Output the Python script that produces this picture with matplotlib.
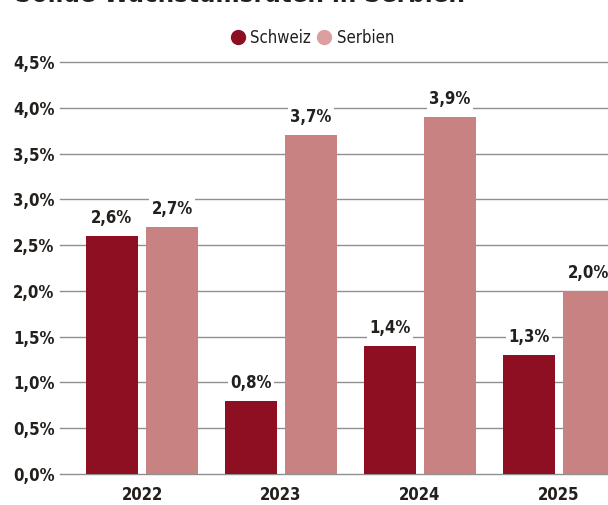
import matplotlib
matplotlib.use("Agg")
import matplotlib.pyplot as plt
import matplotlib.font_manager as fm
from matplotlib.lines import Line2D
import numpy as np

years = ["2022", "2023", "2024", "2025"]
schweiz = [2.6, 0.8, 1.4, 1.3]
serbien = [2.7, 3.7, 3.9, 2.0]
yticks = [0.0, 0.5, 1.0, 1.5, 2.0, 2.5, 3.0, 3.5, 4.0, 4.5]
title = "Solide Wachstumsraten in Serbien"

c_ch = "#8e0f22"
c_rs = "#c98282"
c_rs_leg = "#dc9f9f"
txt = "#231f1c"


def find_condensed(bold):
    for f in fm.fontManager.ttflist:
        fn = f.fname
        if "DejaVu" in f.name and "ondensed" in fn and "Mono" not in fn and "Serif" not in fn \
                and "Oblique" not in fn and ("Bold" in fn) == bold:
            return fn
    return None


fb = find_condensed(True)
fr = find_condensed(False)
scale = 1.0 if fb else 0.9


def fp(bold, size):
    fn = fb if bold else fr
    if fn:
        return fm.FontProperties(fname=fn, size=size)
    return fm.FontProperties(family="DejaVu Sans", weight="bold" if bold else "normal", size=size * scale)


W, H = 608, 505
fig = plt.figure(figsize=(W / 100, H / 100), dpi=100)
ax_left, ax_right, ax_bottom, ax_top = 60, 641, 474, 62
ax = fig.add_axes([ax_left / W, (H - ax_bottom) / H, (ax_right - ax_left) / W, (ax_bottom - ax_top) / H])

x = np.arange(len(years))
bw = 0.374
off = 0.216
ax.bar(x - off, schweiz, bw, color=c_ch, zorder=3)
ax.bar(x + off, serbien, bw, color=c_rs, zorder=3)

ax.set_xlim(-0.59, 3.59)
ax.set_ylim(0, 4.5)
ax.set_yticks(yticks)
ax.set_yticklabels([f"{v:.1f}%".replace(".", ",") for v in yticks], color=txt)
for t in ax.get_yticklabels():
    t.set_fontproperties(fp(True, 12))
ax.set_xticks(x)
ax.set_xticklabels(years, color=txt)
for t in ax.get_xticklabels():
    t.set_fontproperties(fp(True, 12))
ax.tick_params(axis="y", length=0, pad=4)
ax.tick_params(axis="x", length=0, pad=9)
for s in ax.spines.values():
    s.set_visible(False)
ax.grid(axis="y", color="#8f8f8f", linewidth=1.0, zorder=0)
for gl in ax.get_ygridlines():
    gl.set_clip_on(False)

for xs, vals in ((x - off, schweiz), (x + off, serbien)):
    for xi, v in zip(xs, vals):
        ax.annotate(f"{v:.1f}%".replace(".", ","), (xi, v), xytext=(0, 6.5),
                    textcoords="offset points", ha="center", va="bottom",
                    fontproperties=fp(True, 12), color=txt,
                    bbox=dict(facecolor="white", edgecolor="none", pad=1.5), zorder=4)

handles = [Line2D([], [], marker="o", linestyle="none", markersize=10, color=c_ch),
           Line2D([], [], marker="o", linestyle="none", markersize=10, color=c_rs_leg)]
leg = fig.legend(handles, ["Schweiz", "Serbien"], loc="center", bbox_to_anchor=(311 / W, 1 - 38 / H),
                 ncol=2, frameon=False, handletextpad=0.15, columnspacing=0.2,
                 handlelength=1.2, prop=fp(False, 12))
for t in leg.get_texts():
    t.set_color(txt)

fig.text(15 / W, 1 - 1.5 / H, title, ha="left", va="baseline",
         fontproperties=fp(True, 18.5), color=txt)

fig.savefig("out.png", dpi=100)
